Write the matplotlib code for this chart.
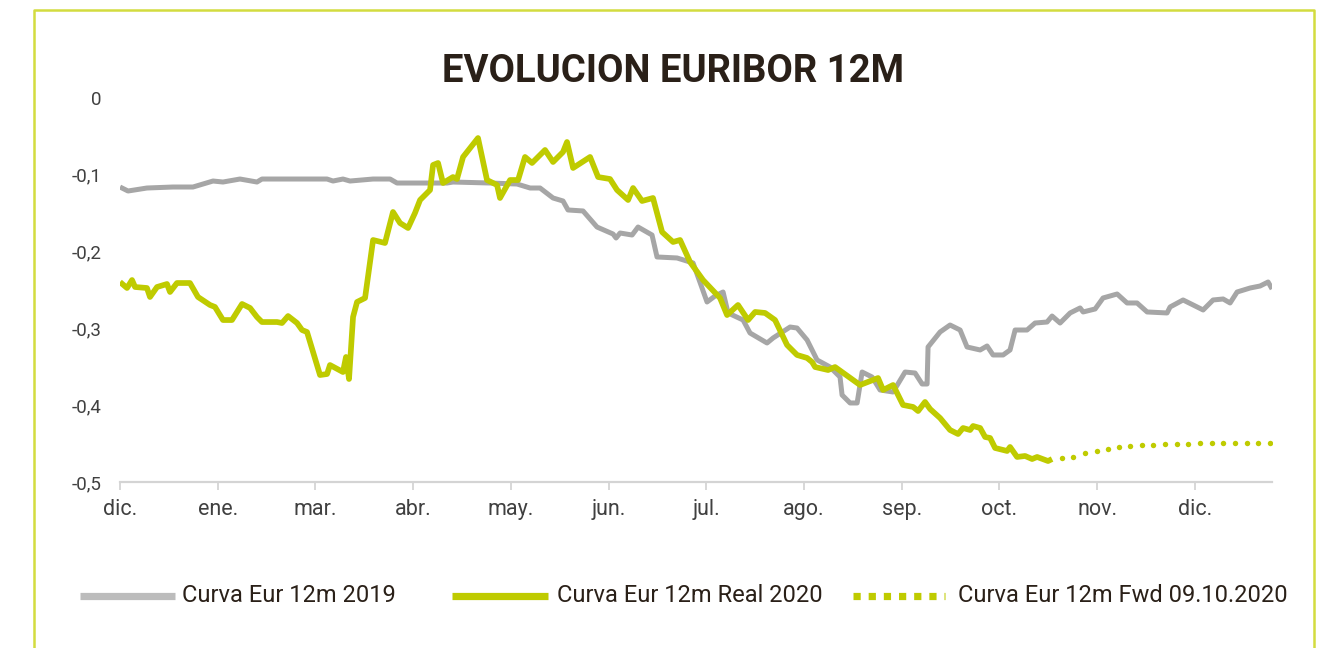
import matplotlib
matplotlib.use("Agg")
import matplotlib.pyplot as plt
from matplotlib.lines import Line2D

# ---------------- data ----------------
month_labels = ['dic.', 'ene.', 'mar.', 'abr.', 'may.', 'jun.', 'jul.', 'ago.', 'sep.', 'oct.', 'nov.', 'dic.']
y_ticks = [0, -0.1, -0.2, -0.3, -0.4, -0.5]
y_tick_labels = ['0', '-0,1', '-0,2', '-0,3', '-0,4', '-0,5']

gray_x = [0.000, 0.082, 0.276, 0.542, 0.747, 0.952, 1.054, 1.228, 1.402, 1.453, 2.119, 2.180, 2.282, 2.354,
          2.590, 2.764, 2.835, 3.347, 3.408, 3.787, 4.063, 4.197, 4.299, 4.432, 4.534, 4.585, 4.739, 4.882,
          5.046, 5.077, 5.118, 5.241, 5.302, 5.445, 5.496, 5.701, 5.865, 6.008, 6.090, 6.172, 6.223, 6.377,
          6.448, 6.622, 6.684, 6.858, 6.929, 7.032, 7.134, 7.267, 7.369, 7.390, 7.472, 7.544, 7.595, 7.697,
          7.779, 7.912, 8.035, 8.137, 8.209, 8.260, 8.270, 8.393, 8.495, 8.598, 8.669, 8.803, 8.874, 8.935,
          9.038, 9.109, 9.161, 9.283, 9.365, 9.488, 9.539, 9.621, 9.724, 9.826, 9.857, 9.980, 10.061, 10.205,
          10.307, 10.409, 10.512, 10.716, 10.747, 10.880, 10.983, 11.085, 11.187, 11.290, 11.361, 11.433,
          11.566, 11.668, 11.750, 11.791]
gray_y = [-0.1159, -0.1211, -0.1172, -0.1159, -0.1159, -0.1081, -0.1094, -0.1055, -0.1094, -0.1055, -0.1055,
          -0.1081, -0.1055, -0.1081, -0.1055, -0.1055, -0.1107, -0.1107, -0.1094, -0.1107, -0.1120, -0.1172,
          -0.1172, -0.1302, -0.1341, -0.1458, -0.1471, -0.1680, -0.1771, -0.1823, -0.1758, -0.1784, -0.1680,
          -0.1784, -0.2070, -0.2083, -0.2148, -0.2656, -0.2578, -0.2526, -0.2799, -0.2891, -0.3060, -0.3190,
          -0.3125, -0.2982, -0.2995, -0.3151, -0.3411, -0.3503, -0.3633, -0.3867, -0.3971, -0.3971, -0.3568,
          -0.3633, -0.3802, -0.3828, -0.3568, -0.3581, -0.3724, -0.3724, -0.3242, -0.3047, -0.2956, -0.3021,
          -0.3242, -0.3281, -0.3229, -0.3346, -0.3346, -0.3281, -0.3021, -0.3021, -0.2930, -0.2917, -0.2839,
          -0.2930, -0.2799, -0.2734, -0.2786, -0.2747, -0.2604, -0.2552, -0.2669, -0.2669, -0.2786, -0.2799,
          -0.2721, -0.2630, -0.2695, -0.2760, -0.2630, -0.2617, -0.2669, -0.2526, -0.2474, -0.2448, -0.2396,
          -0.2487]

green_x = [0.000, 0.072, 0.123, 0.154, 0.276, 0.307, 0.379, 0.481, 0.512, 0.583, 0.716, 0.798, 0.921, 0.972,
           1.054, 1.146, 1.249, 1.331, 1.402, 1.453, 1.607, 1.658, 1.720, 1.812, 1.863, 1.914, 2.047, 2.119,
           2.149, 2.282, 2.313, 2.344, 2.385, 2.426, 2.508, 2.590, 2.712, 2.794, 2.866, 2.948, 3.019, 3.071,
           3.173, 3.204, 3.255, 3.306, 3.408, 3.449, 3.511, 3.664, 3.756, 3.859, 3.889, 3.992, 4.074, 4.145,
           4.217, 4.350, 4.432, 4.534, 4.575, 4.637, 4.811, 4.893, 5.015, 5.087, 5.200, 5.251, 5.343, 5.455,
           5.548, 5.660, 5.732, 5.834, 5.967, 6.141, 6.213, 6.325, 6.428, 6.500, 6.602, 6.704, 6.827, 6.929,
           7.032, 7.083, 7.114, 7.247, 7.318, 7.574, 7.758, 7.810, 7.912, 8.014, 8.117, 8.168, 8.239, 8.291,
           8.393, 8.495, 8.577, 8.628, 8.700, 8.731, 8.803, 8.854, 8.905, 8.956, 9.079, 9.109, 9.181, 9.263,
           9.335, 9.386, 9.498, 9.539]
green_y = [-0.2396, -0.2474, -0.2370, -0.2461, -0.2474, -0.2591, -0.2461, -0.2422, -0.2526, -0.2409, -0.2409,
           -0.2591, -0.2695, -0.2721, -0.2891, -0.2891, -0.2682, -0.2734, -0.2852, -0.2917, -0.2917, -0.2930,
           -0.2839, -0.2930, -0.3021, -0.3047, -0.3607, -0.3594, -0.3477, -0.3568, -0.3372, -0.3659, -0.2852,
           -0.2656, -0.2604, -0.1849, -0.1888, -0.1484, -0.1628, -0.1693, -0.1497, -0.1328, -0.1198, -0.0872,
           -0.0846, -0.1107, -0.1029, -0.1055, -0.0768, -0.0521, -0.1068, -0.1133, -0.1302, -0.1068, -0.1068,
           -0.0768, -0.0846, -0.0677, -0.0833, -0.0703, -0.0573, -0.0911, -0.0768, -0.1029, -0.1055, -0.1198,
           -0.1328, -0.1172, -0.1341, -0.1302, -0.1745, -0.1875, -0.1849, -0.2135, -0.2370, -0.2604, -0.2826,
           -0.2695, -0.2891, -0.2786, -0.2799, -0.2891, -0.3216, -0.3346, -0.3385, -0.3438, -0.3503, -0.3542,
           -0.3503, -0.3737, -0.3646, -0.3802, -0.3737, -0.3997, -0.4023, -0.4076, -0.3958, -0.4050, -0.4167,
           -0.4323, -0.4375, -0.4297, -0.4323, -0.4271, -0.4297, -0.4414, -0.4427, -0.4557, -0.4596, -0.4544,
           -0.4674, -0.4661, -0.4701, -0.4674, -0.4727, -0.4701]

fwd_x = [9.642, 9.754, 9.877, 10.000, 10.113, 10.225, 10.338, 10.461, 10.573, 10.696, 10.819, 10.931,
         11.054, 11.177, 11.290, 11.413, 11.535, 11.648, 11.771]
fwd_y = [-0.4688, -0.4674, -0.4622, -0.4596, -0.4570, -0.4544, -0.4531, -0.4518, -0.4518, -0.4505, -0.4505,
         -0.4505, -0.4492, -0.4492, -0.4492, -0.4492, -0.4492, -0.4492, -0.4492]

series_names = ['Curva Eur 12m 2019', 'Curva Eur 12m Real 2020', 'Curva Eur 12m Fwd 09.10.2020']
title = 'EVOLUCION EURIBOR 12M'

# ---------------- style ----------------
GRAY = '#a6a6a6'
GREEN = '#bfcb00'
FRAME = '#d3dc3f'
TXT = '#404040'
DARK = '#2a2018'
FONT = ['Roboto', 'DejaVu Sans']
plt.rcParams['font.family'] = FONT

W, H = 1325, 648
fig = plt.figure(figsize=(W / 100, H / 100), dpi=100)
fig.patch.set_facecolor('white')

def fx(px):
    return px / W

def fy(py):
    return 1 - py / H

ax = fig.add_axes([fx(120), fy(482), fx(1272) - fx(120), fy(98) - fy(482)])
ax.plot(gray_x, gray_y, color=GRAY, lw=3.6, solid_joinstyle='round', solid_capstyle='butt', zorder=2)
ax.plot(green_x, green_y, color=GREEN, lw=4.1, solid_joinstyle='round', solid_capstyle='butt', zorder=3)
ax.plot(fwd_x, fwd_y, linestyle='none', marker='o', ms=3.9, color=GREEN, markeredgewidth=0, zorder=3)

ax.set_xlim(0, 11.79)
ax.set_ylim(-0.5, 0)
ax.set_xticks(range(len(month_labels)))
ax.set_xticklabels(month_labels, fontsize=15.5, color=TXT)
ax.set_yticks(y_ticks)
ax.set_yticklabels(y_tick_labels, fontsize=13.5, color=TXT)
for s in ['top', 'right', 'left']:
    ax.spines[s].set_visible(False)
ax.spines['bottom'].set_color('#d4d4d4')
ax.spines['bottom'].set_linewidth(1.6)
ax.tick_params(axis='x', direction='out', length=5.5, width=1.3, color='#d4d4d4', pad=7)
ax.tick_params(axis='y', length=0, pad=13)

fig.text(fx(673), fy(72), title, ha='center', va='center', fontsize=27.5, fontweight='bold', color=DARK)

# legend
ly = fy(596)
fig.add_artist(Line2D([fx(80), fx(175)], [ly, ly], color='#bcbcbc', lw=5.2, solid_capstyle='butt'))
fig.text(fx(182), ly, series_names[0], ha='left', va='center', fontsize=17, color=DARK)
fig.add_artist(Line2D([fx(452), fx(548)], [ly, ly], color=GREEN, lw=5.2, solid_capstyle='butt'))
fig.text(fx(557), ly, series_names[1], ha='left', va='center', fontsize=17, color=DARK)
fig.add_artist(Line2D([fx(853), fx(945)], [ly, ly], color=GREEN, lw=5.2, linestyle=(0, (1, 1.1)),
                      dash_capstyle='butt'))
fig.text(fx(958), ly, series_names[2], ha='left', va='center', fontsize=17, color=DARK)

# frame
fig.add_artist(Line2D([fx(34), fx(34), fx(1314), fx(1314)], [0, fy(10), fy(10), 0], color=FRAME, lw=1.8))

fig.savefig('out.png', dpi=100, facecolor='white')
